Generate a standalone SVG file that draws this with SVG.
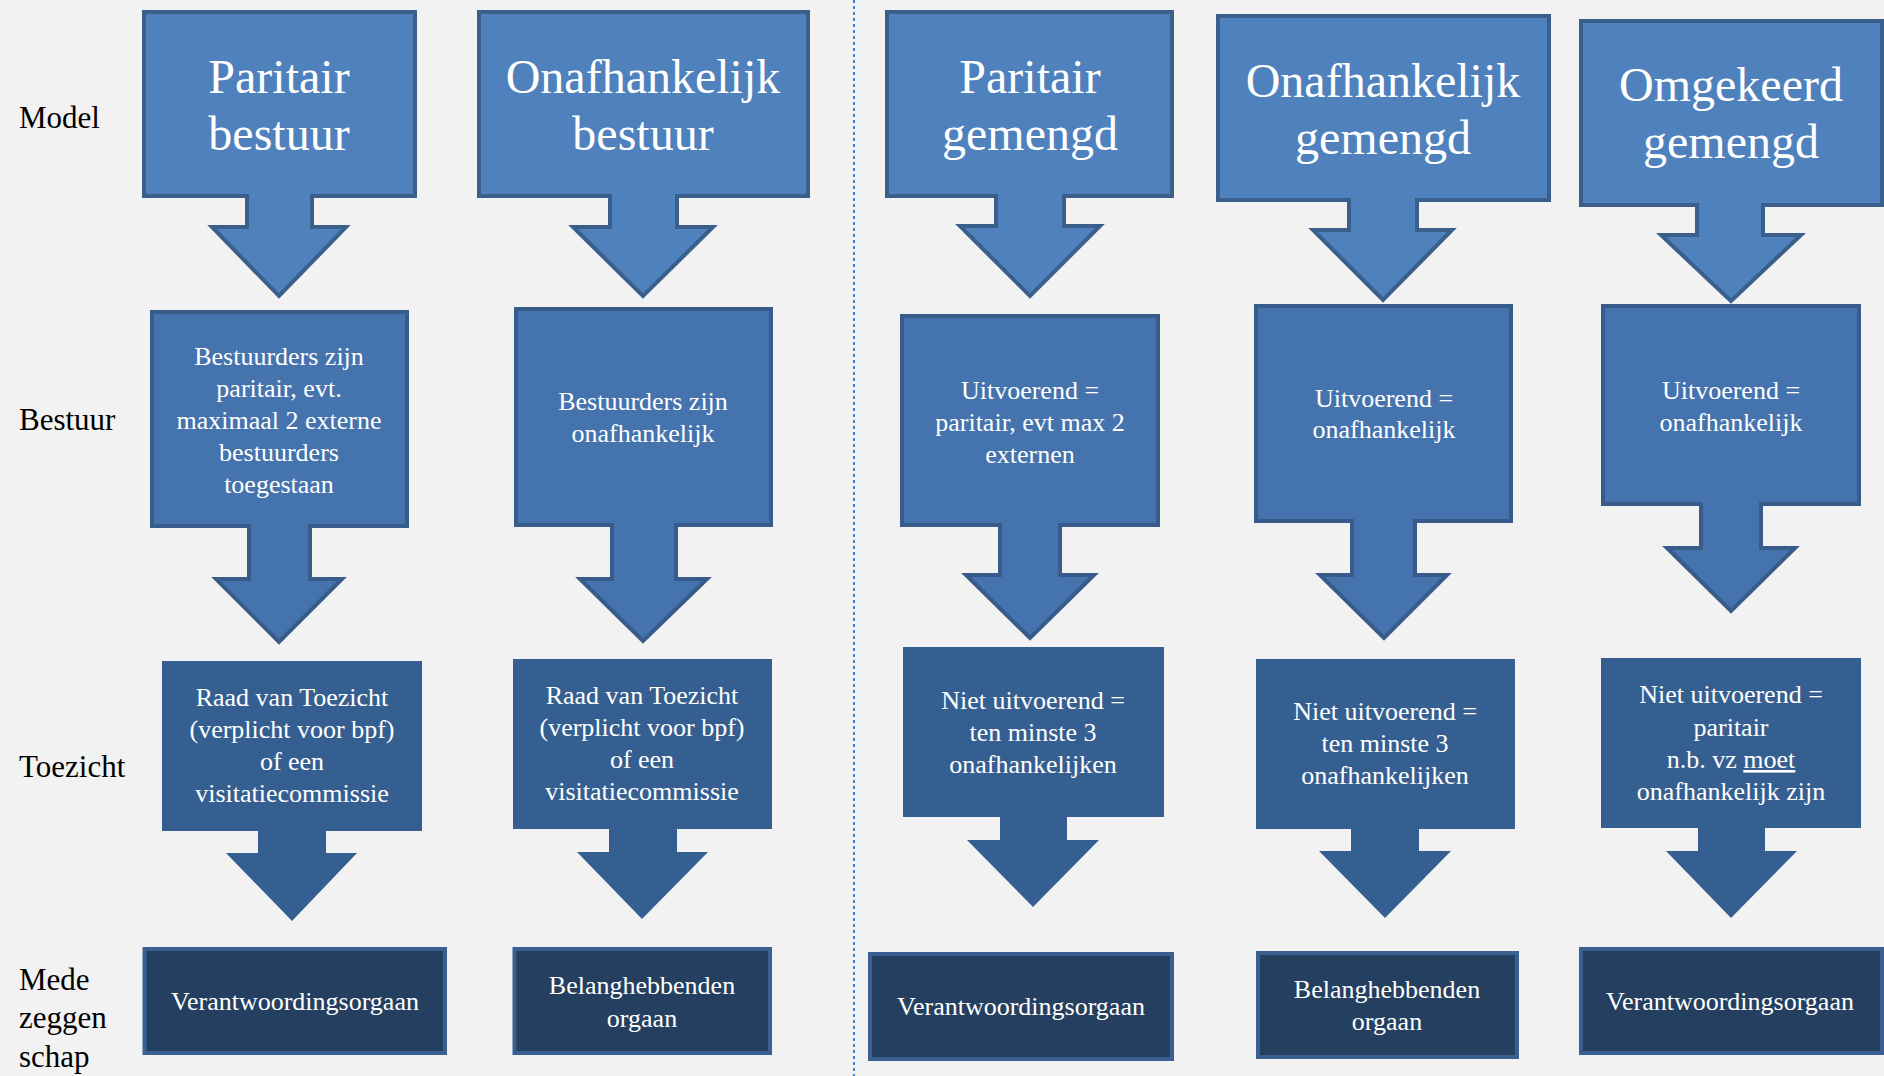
<svg xmlns="http://www.w3.org/2000/svg" width="1884" height="1076" viewBox="0 0 1884 1076">
<style>
text{font-family:"Liberation Serif","Times New Roman",serif;}
.lbl{font-size:31px;fill:#000;}
.t1{font-size:48px;fill:#fff;text-anchor:middle;}
.t2{font-size:26px;fill:#fff;text-anchor:middle;}
.r1{fill:#4F81BD;stroke:#3A5F8B;stroke-width:4;stroke-linejoin:miter;}
.r2{fill:#4473AE;stroke:#385B8A;stroke-width:4;stroke-linejoin:miter;}
.r3{fill:#365F91;}
.r4{fill:#243F60;stroke:#3A6091;stroke-width:4;}
</style>
<rect x="0" y="0" width="1884" height="1076" fill="#F2F2F2"/>
<g id="divider">
<line x1="854" y1="0" x2="854" y2="1076" stroke="#2E86DE" stroke-width="2" stroke-dasharray="3 3"/>
</g>
<g id="row-labels">
<text class="lbl" x="19" y="128">Model</text>
<text class="lbl" x="19" y="430">Bestuur</text>
<text class="lbl" x="19" y="777">Toezicht</text>
<text class="lbl" x="19" y="990">Mede</text>
<text class="lbl" x="19" y="1028">zeggen</text>
<text class="lbl" x="19" y="1067">schap</text>
</g>
<g id="connectors"></g>
<!-- Row 1 -->
<g id="model-1">
<path class="r1" d="M144,12 H415 V196 H312 V227 H346 L279,296 L212,227 H247 V196 H144 Z"/>
<text class="t1" x="279" y="93">Paritair</text>
<text class="t1" x="279" y="150">bestuur</text>
</g>
<g id="model-2">
<path class="r1" d="M479,12 H808 V196 H677 V227 H713 L643,296 L573,227 H610 V196 H479 Z"/>
<text class="t1" x="643" y="93">Onafhankelijk</text>
<text class="t1" x="643" y="150">bestuur</text>
</g>
<g id="model-3">
<path class="r1" d="M887,12 H1172 V196 H1064 V226 H1100 L1030,296 L960,226 H996 V196 H887 Z"/>
<text class="t1" x="1030" y="93">Paritair</text>
<text class="t1" x="1030" y="150">gemengd</text>
</g>
<g id="model-4">
<path class="r1" d="M1218,16 H1549 V200 H1417 V230 H1452 L1383,300 L1313,230 H1349 V200 H1218 Z"/>
<text class="t1" x="1383" y="97">Onafhankelijk</text>
<text class="t1" x="1383" y="154">gemengd</text>
</g>
<g id="model-5">
<path class="r1" d="M1581,21 H1882 V205 H1763 V235 H1801 L1731,301 L1661,235 H1697 V205 H1581 Z"/>
<text class="t1" x="1731" y="101">Omgekeerd</text>
<text class="t1" x="1731" y="158">gemengd</text>
</g>
<!-- Row 2 -->
<g id="bestuur-1">
<path class="r2" d="M152,312 H407 V526 H310 V579 H342 L279,642 L216,579 H249 V526 H152 Z"/>
<text class="t2" x="279" y="365">Bestuurders zijn</text>
<text class="t2" x="279" y="397">paritair, evt.</text>
<text class="t2" x="279" y="429">maximaal 2 externe</text>
<text class="t2" x="279" y="461">bestuurders</text>
<text class="t2" x="279" y="493">toegestaan</text>
</g>
<g id="bestuur-2">
<path class="r2" d="M516,309 H771 V525 H676 V579 H707 L643,641 L580,579 H612 V525 H516 Z"/>
<text class="t2" x="643" y="410">Bestuurders zijn</text>
<text class="t2" x="643" y="442">onafhankelijk</text>
</g>
<g id="bestuur-3">
<path class="r2" d="M902,316 H1158 V525 H1060 V575 H1094 L1030,638 L966,575 H1000 V525 H902 Z"/>
<text class="t2" x="1030" y="399">Uitvoerend =</text>
<text class="t2" x="1030" y="431">paritair, evt max 2</text>
<text class="t2" x="1030" y="463">externen</text>
</g>
<g id="bestuur-4">
<path class="r2" d="M1256,306 H1511 V521 H1415 V575 H1447 L1384,638 L1320,575 H1352 V521 H1256 Z"/>
<text class="t2" x="1384" y="407">Uitvoerend =</text>
<text class="t2" x="1384" y="438">onafhankelijk</text>
</g>
<g id="bestuur-5">
<path class="r2" d="M1603,306 H1859 V504 H1761 V548 H1795 L1731,611 L1667,548 H1701 V504 H1603 Z"/>
<text class="t2" x="1731" y="399">Uitvoerend =</text>
<text class="t2" x="1731" y="431">onafhankelijk</text>
</g>
<!-- Row 3 -->
<g id="toezicht-1">
<path class="r3" d="M162,661 H422 V831 H326 V853 H357 L292,921 L226,853 H258 V831 H162 Z"/>
<text class="t2" x="292" y="706">Raad van Toezicht</text>
<text class="t2" x="292" y="738">(verplicht voor bpf)</text>
<text class="t2" x="292" y="770">of een</text>
<text class="t2" x="292" y="802">visitatiecommissie</text>
</g>
<g id="toezicht-2">
<path class="r3" d="M513,659 H772 V829 H677 V852 H708 L642,919 L577,852 H609 V829 H513 Z"/>
<text class="t2" x="642" y="704">Raad van Toezicht</text>
<text class="t2" x="642" y="736">(verplicht voor bpf)</text>
<text class="t2" x="642" y="768">of een</text>
<text class="t2" x="642" y="800">visitatiecommissie</text>
</g>
<g id="toezicht-3">
<path class="r3" d="M903,647 H1164 V817 H1067 V840 H1099 L1033,907 L967,840 H1000 V817 H903 Z"/>
<text class="t2" x="1033" y="709">Niet uitvoerend =</text>
<text class="t2" x="1033" y="741">ten minste 3</text>
<text class="t2" x="1033" y="773">onafhankelijken</text>
</g>
<g id="toezicht-4">
<path class="r3" d="M1256,659 H1515 V829 H1419 V851 H1451 L1385,918 L1319,851 H1351 V829 H1256 Z"/>
<text class="t2" x="1385" y="720">Niet uitvoerend =</text>
<text class="t2" x="1385" y="752">ten minste 3</text>
<text class="t2" x="1385" y="784">onafhankelijken</text>
</g>
<g id="toezicht-5">
<path class="r3" d="M1601,658 H1861 V828 H1765 V851 H1797 L1731,918 L1666,851 H1698 V828 H1601 Z"/>
<text class="t2" x="1731" y="703">Niet uitvoerend =</text>
<text class="t2" x="1731" y="736">paritair</text>
<text class="t2" x="1731" y="768">n.b. vz <tspan text-decoration="underline">moet</tspan></text>
<text class="t2" x="1731" y="800">onafhankelijk zijn</text>
</g>
<!-- Row 4 -->
<g id="medezeggenschap-1">
<rect class="r4" x="144.5" y="949" width="300.5" height="104"/>
<text class="t2" x="295" y="1010">Verantwoordingsorgaan</text>
</g>
<g id="medezeggenschap-2">
<rect class="r4" x="514.5" y="949" width="255.5" height="104"/>
<text class="t2" x="642" y="994">Belanghebbenden</text>
<text class="t2" x="642" y="1027">orgaan</text>
</g>
<g id="medezeggenschap-3">
<rect class="r4" x="870" y="954" width="302" height="105"/>
<text class="t2" x="1021" y="1015">Verantwoordingsorgaan</text>
</g>
<g id="medezeggenschap-4">
<rect class="r4" x="1258" y="953" width="259" height="104"/>
<text class="t2" x="1387" y="998">Belanghebbenden</text>
<text class="t2" x="1387" y="1030">orgaan</text>
</g>
<g id="medezeggenschap-5">
<rect class="r4" x="1581" y="949" width="301" height="104"/>
<text class="t2" x="1730" y="1010">Verantwoordingsorgaan</text>
</g>
</svg>
